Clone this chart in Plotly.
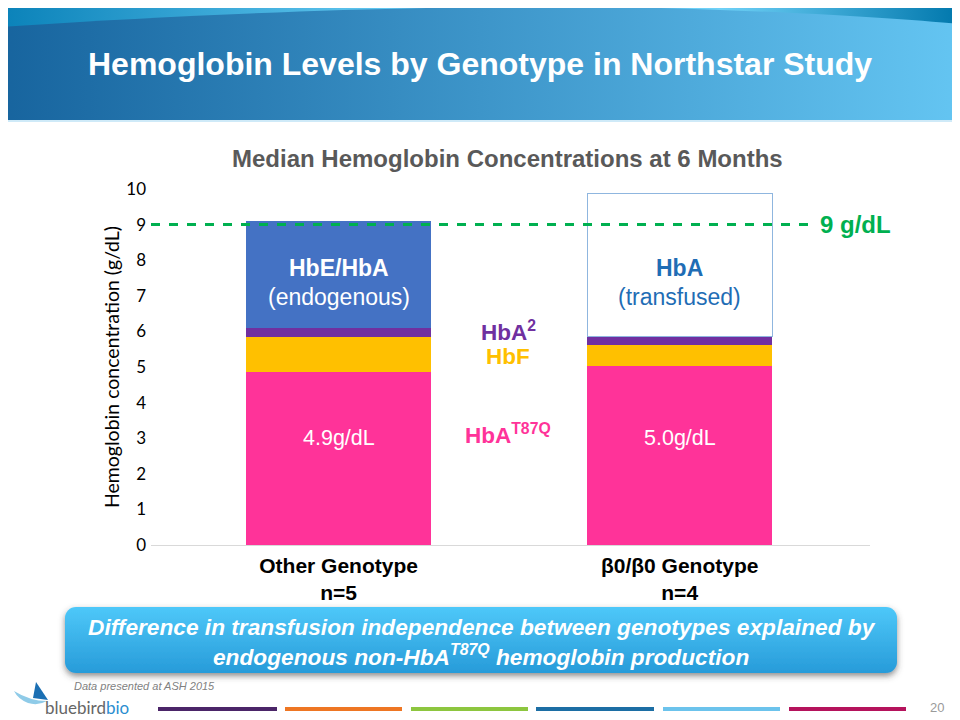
import base64
import plotly.graph_objects as go

# data (g/dL)
genotypes = ["Other Genotype", "β0/β0 Genotype"]
genotype_labels = ["<b>Other Genotype<br>n=5</b>", "<b>β0/β0 Genotype<br>n=4</b>"]
hba_t87q = [4.86, 5.03]
hbf = [0.99, 0.60]
hba2 = [0.25, 0.22]
endogenous = [2.99, None]
transfused = [None, 4.02]
threshold = 9
y_ticks = list(range(0, 11))

# the page body adds an 8px margin, so layout pixels = screen pixels - 8
OFF = 8
W, H = 960, 720
L, T, PW, PH = 151 - OFF, 189 - OFF, 719, 356
R, B = W - L - PW, H - T - PH


def px(x):
    return (x - OFF - L) / PW


def py(y):
    return (T + PH - (y - OFF)) / PH


def svg_uri(svg):
    return "data:image/svg+xml;base64," + base64.b64encode(svg.encode()).decode()


banner_svg = """<svg xmlns="http://www.w3.org/2000/svg" width="960" height="122" viewBox="0 0 960 122" preserveAspectRatio="none">
<defs>
<linearGradient id="g" x1="0" x2="1" y1="0" y2="0">
<stop offset="0" stop-color="#17649e"/><stop offset="0.5" stop-color="#3d95c9"/><stop offset="1" stop-color="#64c5f2"/></linearGradient>
<linearGradient id="a" x1="0" x2="1" y1="0" y2="0">
<stop offset="0" stop-color="#0a82b9"/><stop offset="0.45" stop-color="#6ccff6"/><stop offset="0.75" stop-color="#6fd1f7"/><stop offset="1" stop-color="#0077ac"/></linearGradient>
</defs>
<rect x="0" y="0" width="960" height="122" fill="url(#a)"/>
<path d="M0,27 C250,10 480,5 620,7 C760,10 880,17 960,24 L960,121 L0,121 Z" fill="url(#g)"/>
<rect x="0" y="120" width="960" height="2" fill="#cfeaf8"/>
</svg>"""

box_svg = """<svg xmlns="http://www.w3.org/2000/svg" width="852" height="86" viewBox="0 0 852 86">
<defs>
<linearGradient id="b" x1="0" x2="0" y1="0" y2="1">
<stop offset="0" stop-color="#4ec8f9"/><stop offset="1" stop-color="#279bd9"/></linearGradient>
<filter id="s" x="-5%" y="-20%" width="110%" height="150%">
<feDropShadow dx="0" dy="3" stdDeviation="3" flood-color="#404040" flood-opacity="0.6"/></filter>
</defs>
<rect x="10" y="7" width="832" height="66" rx="11" ry="11" fill="url(#b)" filter="url(#s)"/>
</svg>"""

bird_svg = """<svg xmlns="http://www.w3.org/2000/svg" width="40" height="30" viewBox="0 0 40 30">
<path d="M4,12 Q20,22 37,22 Q28,27 18,24 Q8,20 4,12 Z" fill="#8fcbe8"/>
<path d="M26,3 L38,21 L23,19 Z" fill="#1b6fb3"/>
</svg>"""

fig = go.Figure()

stack = [
    ("HbA T87Q", hba_t87q, "#ff3399", None),
    ("HbF", hbf, "#ffc000", None),
    ("HbA2", hba2, "#7030a0", None),
    ("HbE/HbA", endogenous, "#4472c4", None),
    ("HbA transfused", transfused, "#ffffff", "#8fb6df"),
]
for name, vals, color, line in stack:
    fig.add_trace(go.Bar(
        x=genotypes, y=vals, name=name, width=0.543,
        marker=dict(color=color, line=dict(color=line or color, width=1 if line else 0)),
    ))

fig.add_shape(type="line", xref="x", yref="y", x0=-0.55, x1=1.377, y0=threshold, y1=threshold,
              line=dict(color="#00b050", width=3, dash="dash"))

ann = []


def add(text, x, y, size, color, xref="x", yref="y", bold=False, family="Liberation Sans, Arial",
        xanchor="center", yanchor="middle"):
    ann.append(dict(text=f"<b>{text}</b>" if bold else text, x=x, y=y, xref=xref, yref=yref,
                    xanchor=xanchor, yanchor=yanchor, showarrow=False,
                    font=dict(size=size, color=color, family=family)))


add("HbE/HbA", genotypes[0], 7.78, 23, "#ffffff", bold=True)
add("(endogenous)", genotypes[0], 6.97, 23, "#ffffff")
add("HbA", genotypes[1], 7.78, 23, "#1f6db5", bold=True)
add("(transfused)", genotypes[1], 6.97, 23, "#1f6db5")
add("HbA<sup>2</sup>", px(508), 6.02, 22.5, "#7030a0", xref="paper", bold=True)
add("HbF", px(508), 5.3, 22.5, "#ffc000", xref="paper", bold=True)
add("HbA<sup>T87Q</sup>", px(508), 3.12, 22.5, "#ff3399", xref="paper", bold=True)
add(f"{hba_t87q[0]:.1f}g/dL", genotypes[0], 3.0, 21.5, "#ffffff")
add(f"{hba_t87q[1]:.1f}g/dL", genotypes[1], 3.0, 21.5, "#ffffff")
add(f"{threshold} g/dL", px(818), threshold, 24, "#00b050", xref="paper", bold=True, xanchor="left")

add("Median Hemoglobin Concentrations at 6 Months", px(507), py(158), 24, "#595959",
    xref="paper", yref="paper", bold=True)
add("Hemoglobin Levels by Genotype in Northstar Study", px(480), py(64), 32, "#ffffff",
    xref="paper", yref="paper", bold=True)
add("<i>Difference in transfusion independence between genotypes explained by<br>"
    "endogenous non-HbA<sup>T87Q</sup> hemoglobin production</i>", px(482), py(642), 22.7, "#ffffff",
    xref="paper", yref="paper", bold=True)
add("<i>Data presented at ASH 2015</i>", px(72), py(686), 11, "#7f7f7f",
    xref="paper", yref="paper", xanchor="left")
add("<span style='color:#666666'>bluebird</span><span style='color:#2b8ed0'>bio</span>",
    px(43), py(707), 17, "#666666", xref="paper", yref="paper", xanchor="left",
    family="Lato, Liberation Sans")
add("20", px(937), py(707), 13, "#9a9a9a", xref="paper", yref="paper")

# footer colour rules
rules = [(158, 277, "#4b2568"), (285, 402, "#ee7623"), (411, 528, "#8dc63f"),
         (536, 654, "#1c6ea4"), (663, 780, "#6cc3ec"), (789, 906, "#b5135c")]
for x0, x1, c in rules:
    fig.add_shape(type="line", xref="paper", yref="paper", x0=px(x0), x1=px(x1), y0=py(709), y1=py(709),
                  line=dict(color=c, width=4))

fig.update_layout(
    width=W, height=H,
    margin=dict(l=L, r=R, t=T, b=B),
    barmode="stack",
    showlegend=False,
    plot_bgcolor="white",
    paper_bgcolor="white",
    annotations=ann,
    images=[
        dict(source=svg_uri(banner_svg), xref="paper", yref="paper", x=px(0), y=py(0),
             sizex=960 / PW, sizey=122 / PH, xanchor="left", yanchor="top", sizing="stretch", layer="below"),
        dict(source=svg_uri(box_svg), xref="paper", yref="paper", x=px(55), y=py(600),
             sizex=852 / PW, sizey=86 / PH, xanchor="left", yanchor="top", sizing="stretch", layer="below"),
        dict(source=svg_uri(bird_svg), xref="paper", yref="paper", x=px(10), y=py(679),
             sizex=40 / PW, sizey=30 / PH, xanchor="left", yanchor="top", sizing="stretch", layer="above"),
    ],
)
fig.update_xaxes(
    type="category", range=[-0.55, 1.558], tickvals=genotypes, ticktext=genotype_labels,
    showgrid=False, showline=False, ticks="", ticklabelstandoff=6,
    tickfont=dict(family="Liberation Sans, Arial", size=21, color="#000000"),
)
fig.update_yaxes(
    range=[0, 10], tickvals=y_ticks, showgrid=False, zeroline=True, zerolinecolor="#d9d9d9",
    zerolinewidth=1, ticks="", ticklabelstandoff=4,
    tickfont=dict(family="Lato, Carlito, Liberation Sans", size=17, color="#000000"),
    title=dict(text="Hemoglobin concentration (g/dL)", standoff=1,
               font=dict(family="Lato, Carlito, Liberation Sans", size=19.5, color="#000000")),
)

fig.write_html("out.html")
